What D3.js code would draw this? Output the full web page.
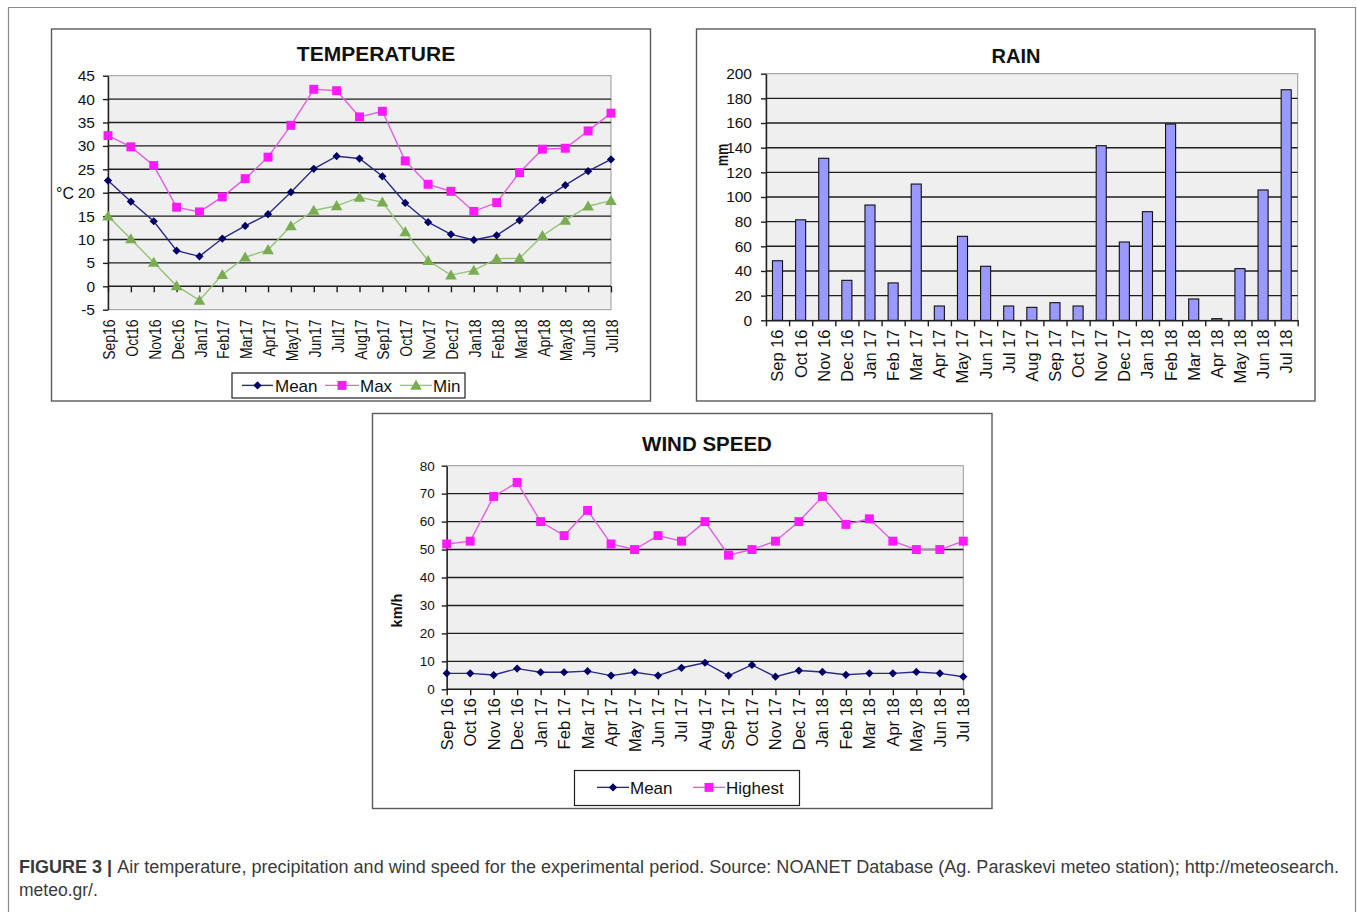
<!DOCTYPE html>
<html>
<head>
<meta charset="utf-8">
<script src="https://cdn.jsdelivr.net/npm/d3@7"></script>
<style>
  body { margin: 0; background: #fff; }
  svg { display: block; }
  text { font-family: "Liberation Sans", Arial, Helvetica, sans-serif; }
</style>
</head>
<body>
<svg id="fig" width="1357" height="912"></svg>
<script>
// ---- Data: monthly station records, Sep 2016 – Jul 2018 ----
const monthsTemp = ["Sep16","Oct16","Nov16","Dec16","Jan17","Feb17","Mar17","Apr17","May17","Jun17","Jul17","Aug17",
                    "Sep17","Oct17","Nov17","Dec17","Jan18","Feb18","Mar18","Apr18","May18","Jun18","Jul18"];
const months = ["Sep 16","Oct 16","Nov 16","Dec 16","Jan 17","Feb 17","Mar 17","Apr 17","May 17","Jun 17","Jul 17","Aug 17",
                "Sep 17","Oct 17","Nov 17","Dec 17","Jan 18","Feb 18","Mar 18","Apr 18","May 18","Jun 18","Jul 18"];

// Air temperature (°C)
const tempMean = [22.6, 18.1, 13.9, 7.6, 6.4, 10.2, 12.9, 15.4, 20.1, 25.1, 27.8, 27.3,
                  23.5, 17.8, 13.7, 11.1, 9.9, 10.9, 14.1, 18.4, 21.6, 24.6, 27.1];
const tempMax  = [32.2, 29.8, 25.8, 16.9, 15.9, 19.1, 23.0, 27.6, 34.4, 42.1, 41.8, 36.2,
                  37.4, 26.8, 21.8, 20.3, 16.0, 17.9, 24.3, 29.3, 29.5, 33.2, 37.0];
const tempMin  = [15.0, 10.1, 5.1, 0.1, -3.0, 2.5, 6.2, 7.8, 12.9, 16.2, 17.2, 19.0,
                  18.0, 11.6, 5.5, 2.4, 3.4, 5.9, 6.0, 10.8, 14.1, 17.1, 18.3];

// Precipitation (mm)
const rainMm = [48.3, 81.5, 131.4, 32.4, 93.5, 30.3, 110.5, 11.6, 68.1, 43.8, 11.6, 10.5,
                14.3, 11.6, 141.6, 63.5, 88.1, 159.2, 17.3, 1.3, 41.9, 105.7, 187.0];

// Wind speed (km/h)
const windMean    = [5.7, 5.7, 5.1, 7.4, 6.1, 6.1, 6.5, 4.9, 6.1, 4.9, 7.7, 9.5,
                     4.9, 8.7, 4.5, 6.7, 6.2, 5.2, 5.7, 5.7, 6.2, 5.7, 4.5];
const windHighest = [52, 53, 69, 74, 60, 55, 64, 52, 50, 55, 53, 60,
                     48, 50, 53, 60, 69, 59, 61, 53, 50, 50, 53];

// Axis tick values
const tempTicks = [-5, 0, 5, 10, 15, 20, 25, 30, 35, 40, 45];
const rainTicks = [0, 20, 40, 60, 80, 100, 120, 140, 160, 180, 200];
const windTicks = [0, 10, 20, 30, 40, 50, 60, 70, 80];

// ---- Styles ----
const C = {
  frame: "#5a5a5a",
  plotBg: "#efefef",
  plotBorder: "#9a9a9a",
  grid: "#1e1e1e",
  text: "#111",
  navy: "#000066", navyLine: "#2a2a86",
  magenta: "#ff19ff", magentaLine: "#e35ee3",
  green: "#7aad52", greenLine: "#93c474",
  bar: "#9999ff"
};

const svg = d3.select("#fig");

// Outer figure frame
svg.append("path")
  .attr("d", "M8.5,920 V7.5 H1355.5 V920")
  .attr("fill", "none").attr("stroke", "#8a8a8a").attr("stroke-width", 1.2);

const markers = {
  diamond: d3.symbol(d3.symbolSquare, 34),
  square: d3.symbol(d3.symbolSquare, 80),
  triangle: d3.symbol(d3.symbolTriangle, 58)
};

function drawMarker(g, kind, x, y, fill) {
  const p = g.append("path").attr("d", markers[kind]()).attr("fill", fill);
  if (kind === "diamond") p.attr("transform", `translate(${x},${y}) rotate(45)`);
  else if (kind === "triangle") p.attr("transform", `translate(${x},${y + 1})`);
  else p.attr("transform", `translate(${x},${y})`);
}

function chartFrame(box, title) {
  const g = svg.append("g");
  g.append("rect").attr("x", box.x).attr("y", box.y).attr("width", box.w).attr("height", box.h)
    .attr("fill", "#fff").attr("stroke", C.frame).attr("stroke-width", 1.4);
  g.append("text").attr("x", title.x).attr("y", title.y).attr("text-anchor", "middle")
    .attr("font-size", title.size).attr("font-weight", "bold").attr("fill", C.text).text(title.text);
  return g;
}

// Plot background, horizontal gridlines and the left value axis
function plotArea(g, p, y, ticks, gridVals, labelCfg) {
  g.append("rect").attr("x", p.x0).attr("y", p.top).attr("width", p.x1 - p.x0).attr("height", p.bottom - p.top)
    .attr("fill", C.plotBg).attr("stroke", C.plotBorder).attr("stroke-width", 1);
  g.selectAll(null).data(gridVals).enter().append("line")
    .attr("x1", p.x0).attr("x2", p.x1)
    .attr("y1", d => y(d)).attr("y2", d => y(d))
    .attr("stroke", C.grid).attr("stroke-width", 1.4);
  const ax = g.append("g").attr("transform", `translate(${p.x0},0)`)
    .call(d3.axisLeft(y).tickValues(ticks).tickSize(5).tickPadding(labelCfg.pad).tickSizeOuter(0)
      .tickFormat(d => String(d)));
  ax.select(".domain").attr("stroke", C.grid).attr("stroke-width", 1.4);
  ax.selectAll(".tick line").attr("stroke", C.grid).attr("stroke-width", 1.4);
  ax.selectAll(".tick text").attr("font-size", labelCfg.size).attr("fill", C.text)
    .attr("font-family", '"Liberation Sans", Arial, sans-serif');
}

// Category labels, rotated to read bottom-to-top
function rotatedLabels(g, labels, xPos, top, size, squeeze) {
  g.selectAll(null).data(labels).enter().append("text")
    .attr("transform", (d, i) => `translate(${xPos(i)},${top}) rotate(-90) scale(${squeeze},1)`)
    .attr("text-anchor", "end").attr("dy", "0.36em")
    .attr("font-size", size).attr("fill", C.text).text(d => d);
}

function seriesLine(g, x, y, values, lineColor, markerKind, markerColor) {
  const line = d3.line().x((d, i) => x(i)).y(d => y(d));
  g.append("path").datum(values).attr("d", line)
    .attr("fill", "none").attr("stroke", lineColor).attr("stroke-width", 1.4);
  values.forEach((v, i) => drawMarker(g, markerKind, x(i), y(v), markerColor));
}

function legend(g, box, items, baseline, size) {
  g.append("rect").attr("x", box.x).attr("y", box.y).attr("width", box.w).attr("height", box.h)
    .attr("fill", "#fff").attr("stroke", "#222").attr("stroke-width", 1.2);
  const cy = baseline - size * 0.36;
  items.forEach(it => {
    g.append("line").attr("x1", it.l0).attr("x2", it.l1).attr("y1", cy).attr("y2", cy)
      .attr("stroke", it.line).attr("stroke-width", 1.4);
    drawMarker(g, it.marker, (it.l0 + it.l1) / 2, cy, it.color);
    g.append("text").attr("x", it.tx).attr("y", baseline).attr("font-size", size)
      .attr("fill", C.text).text(it.label);
  });
}

// ---------------- TEMPERATURE ----------------
(function () {
  const g = chartFrame({ x: 51.5, y: 29, w: 599, h: 372 }, { text: "TEMPERATURE", x: 376, y: 61, size: 21 });
  const p = { x0: 108, x1: 611, top: 75.7, bottom: 309.7 };
  const y = d3.scaleLinear().domain([-5, 45]).range([p.bottom, p.top]);
  const x = d3.scaleLinear().domain([0, monthsTemp.length - 1]).range([p.x0, p.x1]);
  plotArea(g, p, y, tempTicks, [0, 5, 10, 15, 20, 25, 30, 35, 40], { pad: 8, size: 15.5 });

  const xa = g.append("g").attr("transform", `translate(0,${y(0)})`)
    .call(d3.axisBottom(x).tickValues(d3.range(monthsTemp.length)).tickSize(6).tickSizeOuter(0).tickFormat(""));
  xa.select(".domain").remove();
  xa.selectAll(".tick line").attr("stroke", C.grid).attr("stroke-width", 1.4);

  rotatedLabels(g, monthsTemp, i => x(i) + 1, 319.5, 17, 0.82);

  g.append("text").attr("x", 56).attr("y", 199).attr("font-size", 16).attr("fill", C.text).text("°C");

  seriesLine(g, x, y, tempMin, C.greenLine, "triangle", C.green);
  seriesLine(g, x, y, tempMean, C.navyLine, "diamond", C.navy);
  seriesLine(g, x, y, tempMax, C.magentaLine, "square", C.magenta);

  legend(g, { x: 232, y: 373, w: 233, h: 25 }, [
    { label: "Mean", l0: 242, l1: 273, tx: 275, line: C.navyLine, marker: "diamond", color: C.navy },
    { label: "Max", l0: 325, l1: 359, tx: 360, line: C.magentaLine, marker: "square", color: C.magenta },
    { label: "Min", l0: 400, l1: 432, tx: 433, line: C.greenLine, marker: "triangle", color: C.green }
  ], 391.5, 17);
})();

// ---------------- RAIN ----------------
(function () {
  const g = chartFrame({ x: 696.5, y: 29, w: 618.5, h: 372 }, { text: "RAIN", x: 1016, y: 63, size: 20 });
  const p = { x0: 766, x1: 1297.7, top: 73.7, bottom: 320.3 };
  const y = d3.scaleLinear().domain([0, 200]).range([p.bottom, p.top]);
  const xi = d3.scaleLinear().domain([0, months.length]).range([p.x0, p.x1]);
  const xb = d3.scaleBand().domain(d3.range(months.length)).range([p.x0, p.x1]).paddingInner(0.565).paddingOuter(0.28);
  plotArea(g, p, y, rainTicks, [20, 40, 60, 80, 100, 120, 140, 160, 180], { pad: 9, size: 15.5 });

  g.selectAll(null).data(rainMm).enter().append("rect")
    .attr("x", (d, i) => xb(i)).attr("width", xb.bandwidth())
    .attr("y", d => y(d)).attr("height", d => y(0) - y(d))
    .attr("fill", C.bar).attr("stroke", "#111").attr("stroke-width", 1.1);

  const xa = g.append("g").attr("transform", `translate(0,${y(0)})`)
    .call(d3.axisBottom(xi).tickValues(d3.range(months.length + 1)).tickSize(6).tickSizeOuter(0).tickFormat(""));
  xa.select(".domain").attr("stroke", C.grid).attr("stroke-width", 1.4);
  xa.selectAll(".tick line").attr("stroke", C.grid).attr("stroke-width", 1.4);

  rotatedLabels(g, months, i => xb(i) + xb.bandwidth() / 2, 329.5, 16.5, 1);

  g.append("text").attr("transform", "translate(728,155) rotate(-90) scale(0.8,1)")
    .attr("text-anchor", "middle").attr("font-size", 16).attr("font-weight", "bold")
    .attr("fill", C.text).text("mm");
})();

// ---------------- WIND SPEED ----------------
(function () {
  const g = chartFrame({ x: 372.5, y: 413.5, w: 619.5, h: 395 }, { text: "WIND SPEED", x: 707, y: 451, size: 20.5 });
  const p = { x0: 446.7, x1: 963.3, top: 465.7, bottom: 689.3 };
  const y = d3.scaleLinear().domain([0, 80]).range([p.bottom, p.top]);
  const x = d3.scaleLinear().domain([0, months.length - 1]).range([p.x0, p.x1]);
  plotArea(g, p, y, windTicks, [0, 10, 20, 30, 40, 50, 60, 70], { pad: 7, size: 13.5 });

  const xa = g.append("g").attr("transform", `translate(0,${y(0)})`)
    .call(d3.axisBottom(x).tickValues(d3.range(months.length)).tickSize(6).tickSizeOuter(0).tickFormat(""));
  xa.select(".domain").remove();
  xa.selectAll(".tick line").attr("stroke", C.grid).attr("stroke-width", 1.4);

  rotatedLabels(g, months, i => x(i), 698, 16.5, 1);

  g.append("text").attr("transform", "translate(402,610.5) rotate(-90)")
    .attr("text-anchor", "middle").attr("font-size", 14.5).attr("font-weight", "bold")
    .attr("fill", C.text).text("km/h");

  seriesLine(g, x, y, windMean, C.navyLine, "diamond", C.navy);
  seriesLine(g, x, y, windHighest, C.magentaLine, "square", C.magenta);

  legend(g, { x: 574.5, y: 770.5, w: 225, h: 35 }, [
    { label: "Mean", l0: 597, l1: 629, tx: 630, line: C.navyLine, marker: "diamond", color: C.navy },
    { label: "Highest", l0: 693, l1: 725, tx: 726, line: C.magentaLine, marker: "square", color: C.magenta }
  ], 793.5, 17);
})();

// ---------------- Caption ----------------
(function () {
  const cap = svg.append("g").attr("fill", "#3a3a3a").attr("font-size", 17.5);
  const t1 = cap.append("text").attr("x", 19).attr("y", 873);
  t1.append("tspan").attr("font-weight", "bold").text("FIGURE 3 | ");
  t1.append("tspan").text("Air temperature, precipitation and wind speed for the experimental period. Source: NOANET Database (Ag. Paraskevi meteo station); http://meteosearch.");
  const w = t1.node().getComputedTextLength();
  const target = 1339 - 19;
  if (Math.abs(w - target) > 2) t1.attr("textLength", target).attr("lengthAdjust", "spacingAndGlyphs");
  cap.append("text").attr("x", 19).attr("y", 896).text("meteo.gr/.");
})();
</script>
</body>
</html>
